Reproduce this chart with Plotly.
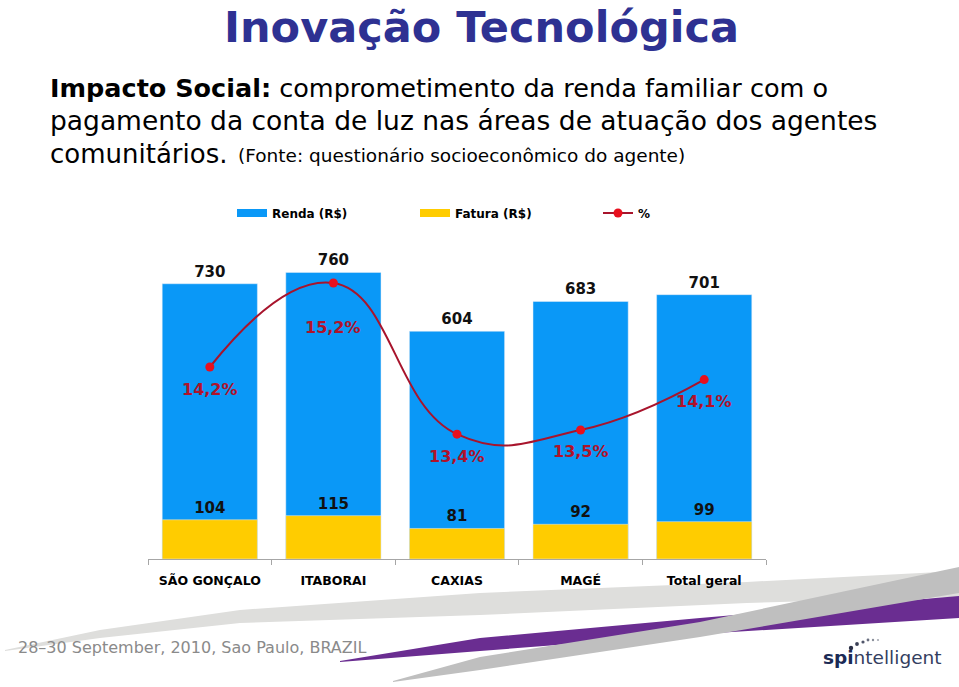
import plotly.graph_objects as go

# ---------------- data ----------------
categories = ["SÃO GONÇALO", "ITABORAI", "CAXIAS", "MAGÉ", "Total geral"]
renda = [730, 760, 604, 683, 701]
fatura = [104, 115, 81, 92, 99]
pct = [14.2, 15.2, 13.4, 13.45, 14.05]
pct_labels = ["14,2%", "15,2%", "13,4%", "13,5%", "14,1%"]

# ---------------- style / layout constants ----------------
W, H = 959, 687
PL, PR, PT, PB = 148, 766, 240, 559   # plot area in page pixels
BLUE = "#0A98F7"
YELLOW = "#FFCC00"
LINE_RED = "#A8142C"
MARK_RED = "#E8101E"
LABEL_RED = "#B0122A"
FONT = "DejaVu Sans"


def px(x):
    return (x - PL) / (PR - PL)


def py(y):
    return (PB - y) / (PB - PT)


def path(points):
    pts = [f"{px(x):.5f},{py(y):.5f}" for x, y in points]
    return "M " + " L ".join(pts) + " Z"


fig = go.Figure()

# bars (overlay)
fig.add_trace(go.Bar(
    x=categories, y=renda, name="Renda (R$)", marker_color=BLUE,
    text=[f"<b>{v}</b>" for v in renda], textposition="outside",
    textfont=dict(family=FONT, size=15, color="#111111"),
    cliponaxis=False, showlegend=False))
fig.add_trace(go.Bar(
    x=categories, y=fatura, name="Fatura (R$)", marker_color=YELLOW,
    text=[f"<b>{v}</b>" for v in fatura], textposition="outside",
    textfont=dict(family=FONT, size=15, color="#111111"),
    cliponaxis=False, showlegend=False))

# legend proxies for bars
fig.add_trace(go.Scatter(x=[None], y=[None], mode="lines", name="<b>Renda (R$)</b>",
                         line=dict(color=BLUE, width=8), legendrank=1))
fig.add_trace(go.Scatter(x=[None], y=[None], mode="lines", name="<b>Fatura (R$)</b>",
                         line=dict(color=YELLOW, width=8), legendrank=2))

# percent line
fig.add_trace(go.Scatter(
    x=categories, y=pct, yaxis="y2", name="<b>%</b>", mode="lines+markers",
    line=dict(color=LINE_RED, width=2, shape="spline", smoothing=1.3),
    marker=dict(size=9, color=MARK_RED), cliponaxis=False, legendrank=3))

pct_shift = [-22, -44, -22, -22, -22]
annotations = []
for c, v, t, s in zip(categories, pct, pct_labels, pct_shift):
    annotations.append(dict(x=c, y=v, xref="x", yref="y2", text=f"<b>{t}</b>",
                            showarrow=False, yshift=s,
                            font=dict(family=FONT, size=16, color=LABEL_RED)))

# header texts
annotations += [
    dict(x=px(481), y=py(26.5), xref="paper", yref="paper", showarrow=False,
         text="<b>Inovação Tecnológica</b>", xanchor="center", yanchor="middle",
         font=dict(family=FONT, size=43, color="#2E3192")),
    dict(x=px(48), y=py(88), xref="paper", yref="paper", showarrow=False,
         text="<b>Impacto Social:</b> comprometimento da renda familiar com o",
         xanchor="left", yanchor="middle",
         font=dict(family=FONT, size=25.5, color="#000000")),
    dict(x=px(48), y=py(121), xref="paper", yref="paper", showarrow=False,
         text="pagamento da conta de luz nas áreas de atuação dos agentes",
         xanchor="left", yanchor="middle",
         font=dict(family=FONT, size=26.5, color="#000000")),
    dict(x=px(48), y=py(154), xref="paper", yref="paper", showarrow=False,
         text="comunitários.", xanchor="left", yanchor="middle",
         font=dict(family=FONT, size=26, color="#000000")),
    dict(x=px(236), y=py(155), xref="paper", yref="paper", showarrow=False,
         text="(Fonte: questionário socioeconômico do agente)",
         xanchor="left", yanchor="middle",
         font=dict(family=FONT, size=18.5, color="#000000")),
    dict(x=px(16), y=py(647), xref="paper", yref="paper", showarrow=False,
         text="28–30 September, 2010, Sao Paulo, BRAZIL",
         xanchor="left", yanchor="middle",
         font=dict(family=FONT, size=16, color="#8A8A8A")),
    dict(x=px(821), y=py(657), xref="paper", yref="paper", showarrow=False,
         text="<b><span style='color:#1B2A55'>spi</span></b>ntelligent",
         xanchor="left", yanchor="middle",
         font=dict(family=FONT, size=18.5, color="#34405F")),
]

# decorative swooshes (page pixel coordinates converted to paper)
light_gray = [(5, 650), (100, 630), (240, 610), (480, 593), (747, 582), (959, 571),
              (959, 597), (747, 603), (480, 615), (240, 623), (100, 638), (5, 651)]
purple = [(340, 661), (480, 638), (700, 618), (959, 596),
          (959, 618), (700, 634), (480, 651), (340, 662)]
dark_gray = [(393, 681), (480, 657), (700, 622), (959, 567),
             (959, 593), (700, 637), (480, 670), (393, 682)]
shapes = []
for pts, col in [(light_gray, "#DEDEDC"), (purple, "#6A2D91"), (dark_gray, "#BFBFBF")]:
    shapes.append(dict(type="path", xref="paper", yref="paper", path=path(pts),
                       fillcolor=col, line=dict(width=0), layer="below"))

# logo dots (page pixels: x, y, radius, colour)
logo_dots = [(851, 648, 2.2, "#2A2F45"), (857, 644, 1.9, "#3A3F55"), (863, 642, 1.6, "#50556A"),
             (868, 640, 1.4, "#6A6F80"), (873, 640, 1.2, "#8A8F9A"), (878, 640, 1.1, "#A5A9B2")]
for x, y, r, col in logo_dots:
    shapes.append(dict(type="circle", xref="paper", yref="paper",
                       x0=px(x - r), x1=px(x + r), y0=py(y + r), y1=py(y - r),
                       fillcolor=col, line=dict(width=0)))

fig.update_layout(
    width=W, height=H,
    margin=dict(l=PL, r=W - PR, t=PT, b=H - PB, autoexpand=False),
    paper_bgcolor="white", plot_bgcolor="rgba(0,0,0,0)",
    barmode="overlay", bargap=0.23,
    font=dict(family=FONT, color="#000000"),
    xaxis=dict(showline=True, linecolor="#A6A6A6", linewidth=1,
               ticks="outside", tickson="boundaries", ticklen=5, tickcolor="#A6A6A6",
               showgrid=False, zeroline=False, ticklabelstandoff=10,
               tickfont=dict(family=FONT, size=12.5, color="#000000"),
               tickprefix="<b>", ticksuffix="</b>"),
    yaxis=dict(visible=False, range=[0, 846], showgrid=False),
    yaxis2=dict(visible=False, range=[11.914, 15.712], overlaying="y",
                side="right", showgrid=False),
    legend=dict(orientation="h", x=px(232), y=py(213), xanchor="left", yanchor="middle",
                entrywidth=138, font=dict(family=FONT, size=12, color="#000000"),
                bgcolor="rgba(0,0,0,0)", traceorder="normal"),
    annotations=annotations, shapes=shapes,
)

fig.write_html("out.html", config={"displayModeBar": False},
               post_script="document.body.style.margin='0';")
